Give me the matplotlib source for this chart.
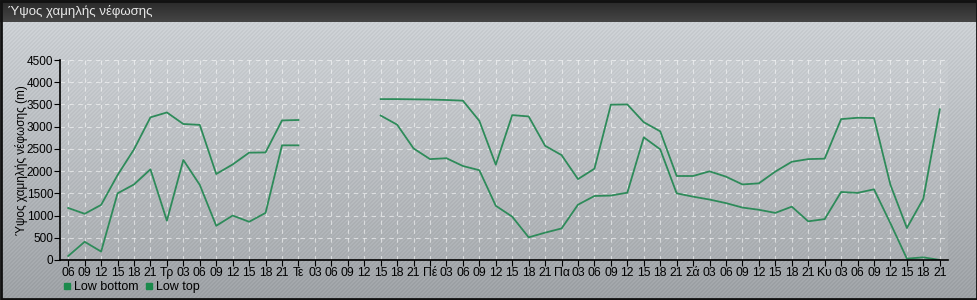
import numpy as np
import matplotlib
matplotlib.use('Agg')
import matplotlib.pyplot as plt
from matplotlib.patches import Rectangle

plt.rcParams['font.family'] = ['Liberation Sans', 'DejaVu Sans']

# Tick labels (every 3 hours, day names at midnight)
tick_labels = ['06', '09', '12', '15', '18', '21',
               'Τρ', '03', '06', '09', '12', '15', '18', '21',
               'Τε', '03', '06', '09', '12', '15', '18', '21',
               'Πέ', '03', '06', '09', '12', '15', '18', '21',
               'Πα', '03', '06', '09', '12', '15', '18', '21',
               'Σά', '03', '06', '09', '12', '15', '18', '21',
               'Κυ', '03', '06', '09', '12', '15', '18', '21']

nan = np.nan
low_bottom = [90, 410, 190, 1500, 1700, 2040,
              885, 2250, 1690, 770, 1000, 860, 1060, 2580,
              2580, nan, nan, nan, nan, 3250, 3045, 2510,
              2270, 2290, 2115, 2020, 1220, 975, 510, 615,
              710, 1245, 1440, 1450, 1515, 2760, 2490, 1500,
              1425, 1360, 1280, 1180, 1130, 1060, 1200, 870,
              920, 1530, 1510, 1590, 825, 30, 60, 0]
low_top = [1170, 1040, 1240, 1910, 2490, 3210,
           3320, 3060, 3040, 1935, 2150, 2415, 2420, 3140,
           3150, nan, nan, nan, nan, 3620, 3620, 3615,
           3610, 3600, 3585, 3130, 2145, 3260, 3230, 2570,
           2360, 1820, 2055, 3495, 3500, 3100, 2895, 1890,
           1890, 1995, 1875, 1700, 1725, 1990, 2210, 2270,
           2280, 3170, 3200, 3195, 1690, 720, 1380, 3390]

W, H = 978, 300
fig = plt.figure(figsize=(W / 100, H / 100), dpi=100)

# background: gradient with diagonal stripes
rows, cols = np.mgrid[0:H, 0:W]
t = rows / H
base = np.stack([212 - 50 * t, 216 - 50 * t, 220 - 50 * t], axis=-1)
stripe = ((cols + rows) % 4 < 2)[..., None] * -9.0
img = np.clip(base + stripe, 0, 255) / 255.0
bg = fig.add_axes([0, 0, 1, 1])
bg.imshow(img, aspect='auto', extent=[0, W, H, 0])
# title bar
bar = np.linspace(0.16, 0.27, 22)[:, None, None] * np.ones((1, W, 3))
bg.imshow(bar, aspect='auto', extent=[0, W, 22, 0])
bg.set_xlim(0, W)
bg.set_ylim(H, 0)
bg.add_patch(Rectangle((0.5, 0.5), W - 1.5, H - 1.5, fill=False, ec='#111111', lw=2))
bg.text(8, 12, 'Ύψος χαμηλής νέφωσης', color='#e8e8e8', fontsize=9.5, va='center', ha='left')
bg.axis('off')

ax = fig.add_axes([60 / W, 40 / H, 888 / W, 200 / H])
ax.set_facecolor((1, 1, 1, 0.07))
x = np.arange(len(tick_labels))
color = '#2e8b5a'
ax.plot(x, low_bottom, color=color, lw=1.3, label='Low bottom')
ax.plot(x, low_top, color=color, lw=1.3, label='Low top')

ax.set_xlim(-0.5, len(tick_labels) - 0.5)
ax.set_ylim(0, 4500)
ax.set_xticks(x)
ax.set_xticklabels(tick_labels, fontsize=8.8)
ax.set_yticks(np.arange(0, 4501, 500))
ax.tick_params(axis='y', labelsize=8.5, length=4, pad=1, colors='black')
ax.tick_params(axis='x', length=4, pad=1)
ax.grid(True, color='white', ls=(0, (4, 4)), lw=0.8, alpha=0.55)
for s in ['top', 'right']:
    ax.spines[s].set_visible(False)
ax.spines['left'].set_linewidth(1.2)
ax.spines['bottom'].set_linewidth(1.2)
ax.set_ylabel('Ύψος χαμηλής νέφωσης (m)', fontsize=8.5)
ax.yaxis.set_label_coords(-0.036, 0.5)

leg = ax.legend(loc='upper left', bbox_to_anchor=(-0.003, -0.075), ncol=2, frameon=False,
                fontsize=9, handlelength=0.6, handleheight=0.6, handletextpad=0.2,
                columnspacing=0.6, borderpad=0)
for h in leg.legend_handles:
    h.set_linestyle('none')
    h.set_marker('s')
    h.set_markersize(5)
    h.set_markerfacecolor('#1b8a4c')
    h.set_markeredgecolor('#1b8a4c')

fig.savefig('out.png', dpi=100)
